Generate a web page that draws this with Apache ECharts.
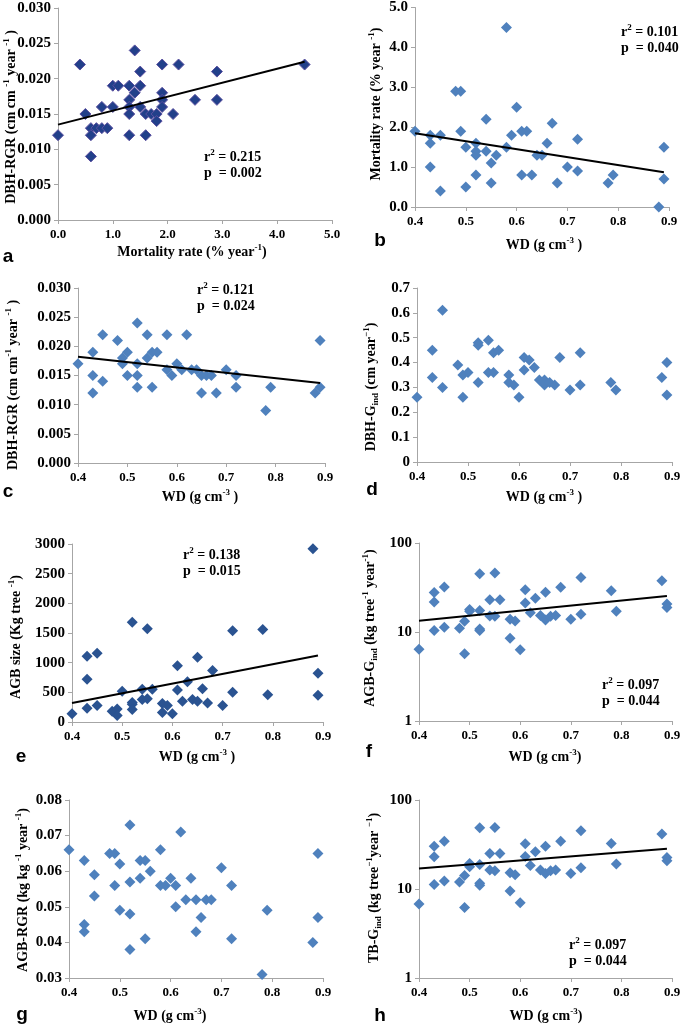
<!DOCTYPE html>
<html>
<head>
<meta charset="utf-8">
<script src="https://cdn.jsdelivr.net/npm/echarts@6/dist/echarts.min.js"></script>
<style>
html,body{margin:0;padding:0;background:#fff;}
#chart{width:684px;height:1026px;}
</style>
</head>
<body>
<div id="chart"></div>
<script>
// ---------- DATA ----------
// Panel a: DBH-RGR vs mortality rate
const aMort = [0.0,0.4,0.5,0.6,0.6,0.6,0.7,0.8,0.8,0.9,1.0,1.0,1.1,1.3,1.3,1.3,1.3,1.3,1.4,1.4,1.5,1.5,1.5,1.6,1.6,1.7,1.8,1.8,1.9,1.9,1.9,1.9,2.1,2.2,2.5,2.9,2.9,4.5];
const aRgr = [0.012,0.022,0.015,0.013,0.012,0.009,0.013,0.016,0.013,0.013,0.019,0.016,0.019,0.019,0.017,0.016,0.015,0.012,0.024,0.018,0.021,0.019,0.016,0.015,0.012,0.015,0.015,0.014,0.022,0.018,0.017,0.016,0.015,0.022,0.017,0.021,0.017,0.022];
const aTrend = [[0,0.0135],[4.5,0.0224]];

// Panel b: mortality vs WD
const bWD = [0.40,0.43,0.43,0.43,0.45,0.45,0.48,0.49,0.49,0.50,0.50,0.52,0.52,0.52,0.52,0.54,0.54,0.55,0.55,0.56,0.58,0.58,0.59,0.60,0.61,0.61,0.62,0.63,0.64,0.65,0.66,0.67,0.68,0.70,0.72,0.72,0.78,0.79,0.88,0.89,0.89];
const bMort = [1.9,1.8,1.6,1.0,1.8,0.4,2.9,2.9,1.9,1.5,0.5,1.6,1.4,1.3,0.8,2.2,1.4,1.1,0.6,1.3,4.5,1.5,1.8,2.5,1.9,0.8,1.9,0.8,1.3,1.3,1.6,2.1,0.6,1.0,1.7,0.9,0.6,0.8,0.0,1.5,0.7];
const bTrend = [[0.4,1.85],[0.89,0.87]];

// Panel c: DBH-RGR vs WD
const cWD = [0.40,0.43,0.43,0.43,0.45,0.45,0.48,0.49,0.49,0.50,0.50,0.52,0.52,0.52,0.52,0.54,0.54,0.55,0.55,0.56,0.58,0.58,0.59,0.60,0.61,0.62,0.63,0.64,0.65,0.65,0.66,0.67,0.68,0.70,0.72,0.72,0.78,0.79,0.88,0.89,0.89];
const cRgr = [0.017,0.019,0.015,0.012,0.022,0.014,0.021,0.018,0.017,0.019,0.015,0.024,0.017,0.015,0.013,0.022,0.018,0.019,0.013,0.019,0.022,0.016,0.015,0.017,0.016,0.022,0.016,0.016,0.015,0.012,0.015,0.015,0.012,0.016,0.015,0.013,0.009,0.013,0.012,0.013,0.021];
const cTrend = [[0.4,0.0182],[0.89,0.0137]];

// Panel d: DBH-Gind vs WD
const dWD = [0.40,0.43,0.43,0.45,0.45,0.48,0.49,0.49,0.50,0.52,0.52,0.52,0.54,0.54,0.55,0.55,0.56,0.58,0.58,0.59,0.60,0.61,0.61,0.62,0.63,0.64,0.65,0.65,0.66,0.67,0.68,0.70,0.72,0.72,0.78,0.79,0.88,0.89,0.89];
const dG = [0.26,0.45,0.34,0.61,0.30,0.39,0.35,0.26,0.36,0.48,0.47,0.32,0.49,0.36,0.44,0.36,0.45,0.35,0.32,0.31,0.26,0.42,0.37,0.41,0.38,0.33,0.33,0.31,0.32,0.31,0.42,0.29,0.44,0.31,0.32,0.29,0.34,0.40,0.27];

// Panel e: AGB size vs WD
const eWD = [0.40,0.43,0.43,0.43,0.45,0.45,0.48,0.49,0.49,0.50,0.52,0.52,0.52,0.52,0.54,0.54,0.55,0.55,0.56,0.58,0.58,0.59,0.60,0.61,0.61,0.62,0.63,0.64,0.65,0.65,0.66,0.67,0.68,0.70,0.72,0.72,0.78,0.79,0.88,0.89,0.89];
const eAgb = [140,1110,720,230,1160,280,180,220,110,520,1680,330,300,210,550,380,1570,390,550,310,160,280,140,950,540,350,680,380,1090,350,560,320,870,280,1540,500,1560,460,2920,820,450];
const eTrend = [[0.4,320],[0.89,1120]];

// Panel f: AGB-Gind vs WD (log)
const fWD = [0.40,0.43,0.43,0.43,0.45,0.45,0.48,0.49,0.49,0.50,0.50,0.52,0.52,0.52,0.52,0.54,0.54,0.55,0.55,0.56,0.58,0.58,0.59,0.60,0.61,0.61,0.62,0.63,0.64,0.65,0.65,0.66,0.67,0.68,0.70,0.72,0.72,0.78,0.79,0.88,0.89,0.89];
const fG = [6.4,27.7,21.7,10.4,32,11.3,11.0,13.2,5.7,17.1,17.9,45,17.4,10.8,10.4,23,15.1,46,15,23,13.9,8.5,13.3,6.3,29.9,21.2,16.5,23.9,15.3,27.9,13.6,15,15.3,31.8,13.9,41,15.8,29.1,17.1,37.7,20.6,18.9];
const fTrend = [[0.4,13.4],[0.89,25.4]];

// Panel g: AGB-RGR vs WD
const gWD = [0.40,0.43,0.43,0.43,0.45,0.45,0.48,0.49,0.49,0.50,0.50,0.52,0.52,0.52,0.52,0.54,0.54,0.55,0.55,0.56,0.58,0.58,0.59,0.60,0.61,0.61,0.62,0.63,0.64,0.65,0.65,0.66,0.67,0.68,0.70,0.72,0.72,0.78,0.79,0.88,0.89,0.89];
const gRgr = [0.066,0.063,0.045,0.043,0.059,0.053,0.065,0.065,0.056,0.062,0.049,0.073,0.057,0.048,0.038,0.063,0.058,0.063,0.041,0.060,0.066,0.056,0.056,0.058,0.056,0.050,0.071,0.052,0.058,0.052,0.043,0.047,0.052,0.052,0.061,0.056,0.041,0.031,0.049,0.040,0.065,0.047];

// Panel h: TB-Gind vs WD (log)
const hWD = [0.40,0.43,0.43,0.43,0.45,0.45,0.48,0.49,0.49,0.50,0.50,0.52,0.52,0.52,0.52,0.54,0.54,0.55,0.55,0.56,0.58,0.58,0.59,0.60,0.61,0.61,0.62,0.63,0.64,0.65,0.65,0.66,0.67,0.68,0.70,0.72,0.72,0.78,0.79,0.88,0.89,0.89];
const hG = [6.8,30.3,23,11.2,34.5,12.3,12.0,14.2,6.2,19.4,17.8,48.8,18.8,11.6,11.0,25,16.3,49.2,16,25,15.2,9.5,14.5,7.0,32.2,23.2,18.4,26.2,16.4,30.3,14.9,16,16.3,34.5,14.9,45.2,17.3,32.5,19.1,41.4,22.6,20.8];
const hTrend = [[0.4,17],[0.89,28.3]];

// Stats text
const statsA = ['0.215','0.002'];
const statsB = ['0.101','0.040'];
const statsC = ['0.121','0.024'];
const statsE = ['0.138','0.015'];
const statsF = ['0.097','0.044'];
const statsH = ['0.097','0.044'];

// ---------- STYLE / LAYOUT ----------
const SERIF = '"Liberation Serif","Times New Roman",serif';
const SANS = '"Liberation Sans",Arial,sans-serif';
const AXIS_COLOR = '#A6A6A6';
const BLUE = '#4F81BD';
const NAVY = '#22408A';

function rich(size){
  return {
    n:{fontFamily:SERIF,fontWeight:'bold',fontSize:size,color:'#000',lineHeight:size+4},
    sup:{fontFamily:SERIF,fontWeight:'bold',fontSize:Math.round(size*0.65),color:'#000',verticalAlign:'top',lineHeight:size+4,padding:[0,0,Math.round(size*0.35),0]},
    sub:{fontFamily:SERIF,fontWeight:'bold',fontSize:Math.round(size*0.65),color:'#000',verticalAlign:'bottom',lineHeight:size+4,padding:[Math.round(size*0.3),0,0,0]}
  };
}

const fmt1 = v => v.toFixed(1);
const fmt2 = v => v.toFixed(2);
const fmt3 = v => v.toFixed(3);

const panels = [
  {id:'a', grid:[58,8,274,212], x:aMort, y:aRgr, trend:aTrend, color:NAVY, border:'#5B4FA0',
   xr:[0,5,1,fmt1], yr:[0,0.03,0.005,fmt3],
   xTitle:'{n|Mortality rate (% year}{sup|-1}{n|)}', xTitlePos:[192,252],
   yTitle:'{n|DBH-RGR (cm cm }{sup|-1}{n| year }{sup|-1}{n| )}', yTitlePos:[11,117],
   letter:[8,257], stats:statsA, statsPos:[204,157]},
  {id:'b', grid:[415,6,254,201], x:bWD, y:bMort, trend:bTrend, color:BLUE,
   xr:[0.4,0.9,0.1,fmt1], yr:[0,5,1,fmt1],
   xTitle:'{n|WD (g cm}{sup|-3}{n| )}', xTitlePos:[544,245],
   yTitle:'{n|Mortality rate (% year }{sup|-1}{n|)}', yTitlePos:[376,104],
   letter:[380,241], stats:statsB, statsPos:[621,32]},
  {id:'c', grid:[78,288,247,175], x:cWD, y:cRgr, trend:cTrend, color:BLUE,
   xr:[0.4,0.9,0.1,fmt1], yr:[0,0.03,0.005,fmt3],
   xTitle:'{n|WD (g cm}{sup|-3}{n| )}', xTitlePos:[200,497],
   yTitle:'{n|DBH-RGR (cm cm}{sup|-1}{n| year }{sup|-1}{n| )}', yTitlePos:[13,385],
   letter:[8,492], stats:statsC, statsPos:[197,290]},
  {id:'d', grid:[417,288,255,174], x:dWD, y:dG, trend:null, color:BLUE,
   xr:[0.4,0.9,0.1,fmt1], yr:[0,0.7,0.1,v=>v===0?'0':v.toFixed(1)],
   xTitle:'{n|WD (g cm}{sup|-3}{n| )}', xTitlePos:[544,497],
   yTitle:'{n|DBH-G}{sub|ind}{n| (cm year}{sup|\u22121}{n|)}', yTitlePos:[371,387],
   letter:[372,490], stats:null},
  {id:'e', grid:[72,544,251,178], x:eWD, y:eAgb, trend:eTrend, color:'#2A5391',
   xr:[0.4,0.9,0.1,fmt1], yr:[0,3000,500,v=>String(v)],
   xTitle:'{n|WD (g cm}{sup|-3}{n| )}', xTitlePos:[197,757],
   yTitle:'{n|AGB size (Kg tree }{sup|-1}{n|)}', yTitlePos:[16,637],
   letter:[21,757], stats:statsE, statsPos:[183,555]},
  {id:'f', grid:[419,543,253,178], x:fWD, y:fG, trend:fTrend, color:BLUE, log:true,
   xr:[0.4,0.9,0.1,fmt1], yr:[1,100,null,v=>String(v)],
   xTitle:'{n|WD (g cm}{sup|-3}{n|)}', xTitlePos:[545,757],
   yTitle:'{n|AGB-G}{sub|ind}{n| (kg tree}{sup|-1}{n| year}{sup|-1}{n|)}', yTitlePos:[370,628],
   letter:[369,752], stats:statsF, statsPos:[602,685]},
  {id:'g', grid:[69,800,254,178], x:gWD, y:gRgr, trend:null, color:BLUE,
   xr:[0.4,0.9,0.1,fmt1], yr:[0.03,0.08,0.01,fmt2],
   xTitle:'{n|WD (g cm}{sup|-3}{n|)}', xTitlePos:[170,1016],
   yTitle:'{n|AGB-RGR (kg kg }{sup|-1}{n| year }{sup|-1}{n|)}', yTitlePos:[23,890],
   letter:[22,1015], stats:null},
  {id:'h', grid:[419,800,253,178], x:hWD, y:hG, trend:hTrend, color:BLUE, log:true,
   xr:[0.4,0.9,0.1,fmt1], yr:[1,100,null,v=>String(v)],
   xTitle:'{n|WD (g cm}{sup|-3}{n|)}', xTitlePos:[546,1016],
   yTitle:'{n|TB-G}{sub|ind}{n| (kg tree}{sup|\u22121}{n|year }{sup|\u22121}{n|)}', yTitlePos:[374,888],
   letter:[380,1016], stats:statsH, statsPos:[569,945]}
];

const xLabelStyle = {fontFamily:SERIF, fontWeight:'bold', fontSize:13, color:'#000'};
const yLabelStyle = {fontFamily:SERIF, fontWeight:'bold', fontSize:15, color:'#000'};
const grids = [], xAxes = [], yAxes = [], series = [], graphics = [];

panels.forEach((p,i) => {
  grids.push({left:p.grid[0], top:p.grid[1], width:p.grid[2], height:p.grid[3], containLabel:false});
  xAxes.push({
    type:'value', gridIndex:i, min:p.xr[0], max:p.xr[1], interval:p.xr[2],
    axisLine:{show:true, onZero:false, lineStyle:{color:AXIS_COLOR, width:1}},
    axisTick:{show:true, length:4, lineStyle:{color:AXIS_COLOR}},
    splitLine:{show:false},
    axisLabel:Object.assign({margin:8, showMinLabel:true, showMaxLabel:true, formatter:p.xr[3]}, xLabelStyle)
  });
  const ya = {
    gridIndex:i, min:p.yr[0], max:p.yr[1],
    axisLine:{show:true, onZero:false, lineStyle:{color:AXIS_COLOR, width:1}},
    axisTick:{show:true, length:4, lineStyle:{color:AXIS_COLOR}},
    splitLine:{show:false},
    axisLabel:Object.assign({margin:7, showMinLabel:true, showMaxLabel:true, formatter:p.yr[3]}, yLabelStyle)
  };
  if (p.log) { ya.type = 'log'; ya.logBase = 10; }
  else { ya.type = 'value'; ya.interval = p.yr[2]; }
  yAxes.push(ya);

  series.push({
    type:'scatter', xAxisIndex:i, yAxisIndex:i, symbol:'diamond', symbolSize:11,
    data:p.x.map((v,k)=>[v,p.y[k]]),
    itemStyle:{color:p.color, borderColor:p.border||p.color, borderWidth:p.border?1:0, opacity:1},
    z:2, silent:true
  });
  if (p.trend) {
    series.push({
      type:'line', xAxisIndex:i, yAxisIndex:i, data:p.trend, symbol:'none',
      lineStyle:{color:'#000', width:2}, z:5, silent:true
    });
  }
  graphics.push({type:'text', x:p.xTitlePos[0], y:p.xTitlePos[1],
    style:{text:p.xTitle, rich:rich(14), align:'center', verticalAlign:'middle'}});
  graphics.push({type:'text', x:p.yTitlePos[0], y:p.yTitlePos[1], rotation:Math.PI/2,
    style:{text:p.yTitle, rich:rich(14), align:'center', verticalAlign:'middle'}});
  graphics.push({type:'text', x:p.letter[0], y:p.letter[1],
    style:{text:p.id, fontFamily:SANS, fontWeight:'bold', fontSize:19, fill:'#000', align:'center', verticalAlign:'middle'}});
  if (p.stats) {
    graphics.push({type:'text', x:p.statsPos[0], y:p.statsPos[1],
      style:{text:'{n|r}{sup|2}{n| = '+p.stats[0]+'}', rich:rich(14), align:'left', verticalAlign:'middle'}});
    graphics.push({type:'text', x:p.statsPos[0], y:p.statsPos[1]+16,
      style:{text:'{n|p  = '+p.stats[1]+'}', rich:rich(14), align:'left', verticalAlign:'middle'}});
  }
});

const chart = echarts.init(document.getElementById('chart'), null, {renderer:'canvas'});
chart.setOption({
  animation:false,
  backgroundColor:'#fff',
  grid:grids, xAxis:xAxes, yAxis:yAxes, series:series,
  graphic:{elements:graphics}
});
</script>
</body>
</html>
